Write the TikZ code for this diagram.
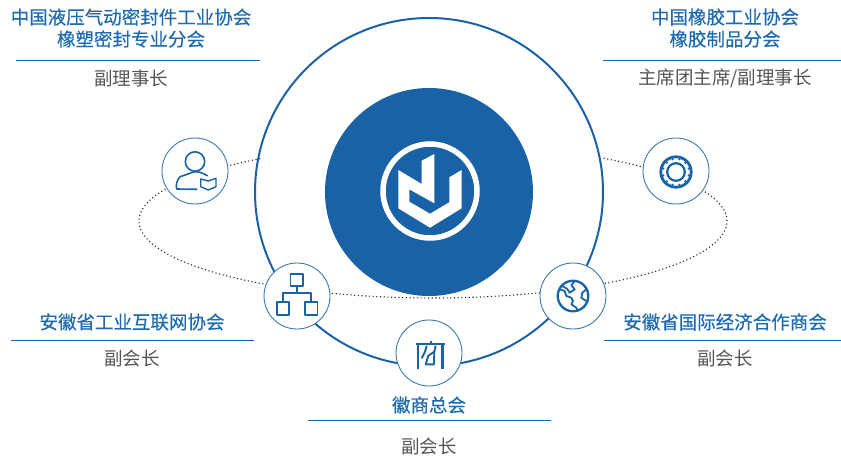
\documentclass[tikz,border=0pt]{standalone}
\usepackage{fontspec}
\usetikzlibrary{calc}
\setmainfont{Noto Sans CJK SC}
\newfontfamily\titlefont[FakeBold=0.25]{Noto Sans CJK SC}
\definecolor{brand}{HTML}{1A62A6}
\definecolor{titleblue}{HTML}{1C6AB0}
\definecolor{greytext}{HTML}{555555}
\tikzset{
  titletext/.style={text=titleblue,font=\titlefont\fontsize{18.5}{20}\selectfont,inner sep=0pt,anchor=center},
  roletext/.style={text=greytext,font=\fontsize{18.5}{20}\selectfont,inner sep=0pt,anchor=center},
  rulestyle/.style={draw=brand,line width=0.8pt},
  badge/.style={circle,draw=brand!85,fill=white,line width=0.9pt,minimum size=66pt,inner sep=0pt},
  ico/.style={draw=brand,line width=1.9pt,line join=round,line cap=butt},
  orbit/.style={draw=black!85,line width=1.1pt,dash pattern=on 1.1pt off 2.6pt}
}
\begin{document}
\begin{tikzpicture}[x=1pt,y=-1pt]
\useasboundingbox (0,0) rectangle (841,458);
\fill[white] (0,0) rectangle (841,458);
% big ring
\node[circle,draw=brand,fill=white,line width=2pt,minimum size=348pt,inner sep=0pt] (ring) at (429,192) {};
% orbit
\draw[orbit] plot[domain=126:415,samples=240] ({433+294*cos(\x)},{221-77*sin(\x)});
% core
\node[circle,fill=brand,minimum size=208pt,inner sep=0pt] (core) at (429,192) {};
\node[circle,draw=white,line width=5.5pt,minimum size=94pt,inner sep=0pt] (logo) at (430,191) {};
\fill[white] (398.3,170)--(421.7,184)--(421.7,160.7)--(434.3,154)--(434.3,203.3)--(409.3,189.3)--(409.3,201.7)--(430,213.7)--(449.3,202.3)--(449.3,177.3)--(461.7,170)--(461.7,208.3)--(430,227.7)--(398.3,208.3)--cycle;
% badges
\node[badge] (person) at (195,171) {};
\node[badge] (gear) at (676,171) {};
\node[badge] (org) at (297,296) {};
\node[badge] (globe) at (573,296) {};
\node[badge] (shang) at (429,353) {};
% person icon
\draw[ico,line width=1.6pt,line cap=round] (195,161.5) circle (9.7);
\draw[ico,line width=1.6pt,line cap=round] (207.3,175.7) .. controls (202,172.5) and (198,171.5) .. (195,171.7) .. controls (191,172.5) and (186,175) .. (180,176.7) .. controls (177,180) and (175.5,185) .. (176.7,189) -- (196.7,189.3);
\draw[ico,line width=1.4pt] (200.7,179) -- (208.3,181) -- (216,178.3) -- (216,186.7) -- (208.3,190) -- (200.7,186.7) -- cycle;
% org icon
\draw[ico] (290.5,273.7) rectangle (303.3,286);
\draw[ico] (276.7,302.3) rectangle (289.3,315);
\draw[ico] (304.7,302.3) rectangle (317.5,315);
\draw[ico] (297,286) -- (297,293.3);
\draw[ico] (283,302.3) -- (283,293.3) -- (311,293.3) -- (311,302.3);
% globe icon
\draw[ico,line width=2.3pt] (573,296) circle (15.3);
\draw[ico,line width=1.8pt] (559.7,289.3) -- (564.7,291) -- (566.3,296) -- (571.3,297.7) -- (573,301) -- (571.3,304.3) -- (576.3,307.7) -- (578,311);
\draw[ico,line width=1.8pt] (574.7,281) -- (571.3,285.3) -- (574.7,289.3) -- (569.7,292.7) -- (567,288.7) -- (562.3,286);
\draw[ico,line width=1.8pt] (586.3,289.3) -- (582.3,292.7) -- (581.3,297.7) -- (586.3,301);
% gear icon
\draw[ico,line width=2.8pt] (676,172) circle (15.2);
\foreach \a in {0,30,...,330}{\fill[brand] ($(676,172)+(\a+15:13.2)$) circle (1.25);}
\draw[ico,line width=2.2pt] (676,172) circle (8.8);
% shang icon
\draw[ico,line width=2.2pt] (415.7,344.3) -- (445,344.3);
\draw[ico,line width=2.2pt] (430.7,340.5) -- (430.7,344.3);
\draw[ico,line width=2.2pt] (417.6,344.3) -- (417.6,368.5);
\draw[ico,line width=2.2pt] (442.4,344.3) -- (442.4,368.5);
\draw[ico] (426.7,345.7) -- (425,351.7) -- (421.7,358.3);
\draw[ico] (435.7,345.7) -- (434.3,351.7) -- (428.3,355.7) -- (425.7,364.3) -- (434,364.3) -- (434.3,351.7);
% labels
\node[titletext] (t1a) at (131,17) {中国液压气动密封件工业协会};
\node[titletext] (t1b) at (131,39) {橡塑密封专业分会};
\draw[rulestyle] (16,60) -- (260,60);
\node[roletext] (r1) at (131,78.5) {副理事长};
\node[titletext] (t2a) at (725,17) {中国橡胶工业协会};
\node[titletext] (t2b) at (725,39) {橡胶制品分会};
\draw[rulestyle] (603,60) -- (841,60);
\node[roletext] (r2) at (725,78.5) {主席团主席/副理事长};
\node[titletext] (t3) at (132,322) {安徽省工业互联网协会};
\draw[rulestyle] (11,340) -- (254,340);
\node[roletext] (r3) at (132,358.5) {副会长};
\node[titletext] (t4) at (725,322) {安徽省国际经济合作商会};
\draw[rulestyle] (604,340) -- (841,340);
\node[roletext] (r4) at (725,358.5) {副会长};
\node[titletext] (t5) at (429,405) {徽商总会};
\draw[rulestyle] (308,420) -- (551,420);
\node[roletext] (r5) at (429,446) {副会长};
\end{tikzpicture}
\end{document}
